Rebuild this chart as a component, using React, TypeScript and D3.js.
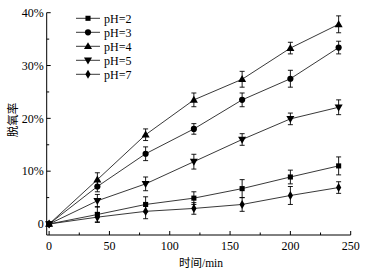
import React from "react";
import * as d3 from "d3";

const times = [0, 40, 80, 120, 160, 200, 240];
const seriesNames = ["pH=2", "pH=3", "pH=4", "pH=5", "pH=7"];
const markerKinds = ["square", "circle", "triangle", "triangleDown", "diamond"];
const ph2 = [0, 1.8, 3.7, 4.9, 6.7, 8.9, 11.0];
const ph2Err = [0, 1.5, 1.45, 1.2, 1.7, 1.3, 1.7];
const ph3 = [0, 7.1, 13.3, 18.0, 23.5, 27.5, 33.4];
const ph3Err = [0, 1.0, 1.3, 1.0, 1.3, 1.6, 1.2];
const ph4 = [0, 8.4, 16.9, 23.5, 27.4, 33.3, 37.8];
const ph4Err = [0, 1.3, 1.1, 1.3, 1.5, 1.1, 1.6];
const ph5 = [0, 4.4, 7.6, 11.8, 16.0, 19.9, 22.1];
const ph5Err = [0, 1.2, 1.3, 1.4, 1.1, 1.1, 1.4];
const ph7 = [0, 1.3, 2.4, 2.95, 3.7, 5.4, 6.9];
const ph7Err = [0, 0.9, 1.4, 1.1, 1.3, 1.7, 1.1];
const allValues = [ph2, ph3, ph4, ph5, ph7];
const allErrors = [ph2Err, ph3Err, ph4Err, ph5Err, ph7Err];
const xTicks = [0, 50, 100, 150, 200, 250];
const xMinor = [25, 75, 125, 175, 225];
const yTicks = [0, 10, 20, 30, 40];
const yTickLabels = ["0", "10%", "20%", "30%", "40%"];
const yMinor = [5, 15, 25, 35];

const FONT = "'Liberation Serif', 'Times New Roman', serif";
const CJK = "'Liberation Serif', 'Noto Sans CJK SC', serif";

function Marker({ kind, x, y }: { kind: string; x: number; y: number }) {
  const sym =
    kind === "square" ? d3.symbolSquare :
    kind === "circle" ? d3.symbolCircle :
    kind === "diamond" ? d3.symbolDiamond : d3.symbolTriangle;
  const size = kind === "square" ? 26 : kind === "circle" ? 30 : kind === "diamond" ? 24 : 28;
  const path = d3.symbol(sym, size)() || "";
  const rot = kind === "triangleDown" ? 180 : 0;
  const dy = kind === "triangle" ? 0.5 : kind === "triangleDown" ? -0.5 : 0;
  return <path d={path} transform={`translate(${x},${y + dy}) rotate(${rot})`} fill="#000" />;
}

export default function App() {
  const x = d3.scaleLinear().domain([-2, 250]).range([46.7, 350.7]);
  const y = d3.scaleLinear().domain([-2.08, 40]).range([235, 12.7]);
  const line = d3.line<number>().x((_, i) => x(times[i])).y((d) => y(d));
  const x0 = x(-2);
  const y0 = y(-2.08);

  return (
    <svg width={366} height={276} style={{ position: "absolute", left: 0, top: 0 }}>
      <rect width={366} height={276} fill="#fff" />
      {/* axes */}
      <line x1={x0} x2={x0} y1={y(40)} y2={y0} stroke="#000" strokeWidth={1} />
      <line x1={x0} x2={x(250)} y1={y0} y2={y0} stroke="#000" strokeWidth={1} />
      {yTicks.map((t, i) => (
        <g key={"yt" + t}>
          <line x1={x0} x2={x0 + 4} y1={y(t)} y2={y(t)} stroke="#000" />
          <text x={x0 - 3} y={y(t)} dy="0.35em" textAnchor="end" fontFamily={FONT} fontSize={12}>
            {yTickLabels[i]}
          </text>
        </g>
      ))}
      {yMinor.map((t) => (
        <line key={"ym" + t} x1={x0} x2={x0 + 2.5} y1={y(t)} y2={y(t)} stroke="#000" />
      ))}
      {xTicks.map((t) => (
        <g key={"xt" + t}>
          <line x1={x(t)} x2={x(t)} y1={y0} y2={y0 - 4} stroke="#000" />
          <text x={x(t)} y={y0 + 15} textAnchor="middle" fontFamily={FONT} fontSize={12}>
            {t}
          </text>
        </g>
      ))}
      {xMinor.map((t) => (
        <line key={"xm" + t} x1={x(t)} x2={x(t)} y1={y0} y2={y0 - 2.5} stroke="#000" />
      ))}
      <text x={201} y={267} textAnchor="middle" fontFamily={CJK} fontSize={11.5}>
        时间/min
      </text>
      <text
        transform="translate(17,120) rotate(-90)"
        textAnchor="middle"
        fontFamily={CJK}
        fontSize={11.5}
      >
        脱氧率
      </text>
      {/* series */}
      {allValues.map((vals, si) => (
        <g key={"s" + si}>
          <path d={line(vals) || ""} fill="none" stroke="#222" strokeWidth={0.9} />
          {vals.map((v, i) => {
            const e = allErrors[si][i];
            if (e <= 0) return null;
            const cx = x(times[i]);
            return (
              <g key={"e" + i} stroke="#000" strokeWidth={0.9}>
                <line x1={cx} x2={cx} y1={y(v - e)} y2={y(v + e)} />
                <line x1={cx - 2.5} x2={cx + 2.5} y1={y(v - e)} y2={y(v - e)} />
                <line x1={cx - 2.5} x2={cx + 2.5} y1={y(v + e)} y2={y(v + e)} />
              </g>
            );
          })}
          {vals.map((v, i) => (
            <Marker key={"m" + i} kind={markerKinds[si]} x={x(times[i])} y={y(v)} />
          ))}
        </g>
      ))}
      {/* legend */}
      {seriesNames.map((n, i) => {
        const ly = 18.3 + i * 14;
        return (
          <g key={"l" + i}>
            <line x1={76} x2={100} y1={ly} y2={ly} stroke="#222" strokeWidth={0.9} />
            <Marker kind={markerKinds[i]} x={88} y={ly} />
            <text x={104} y={ly} dy="0.35em" fontFamily={FONT} fontSize={12}>
              {n}
            </text>
          </g>
        );
      })}
    </svg>
  );
}
